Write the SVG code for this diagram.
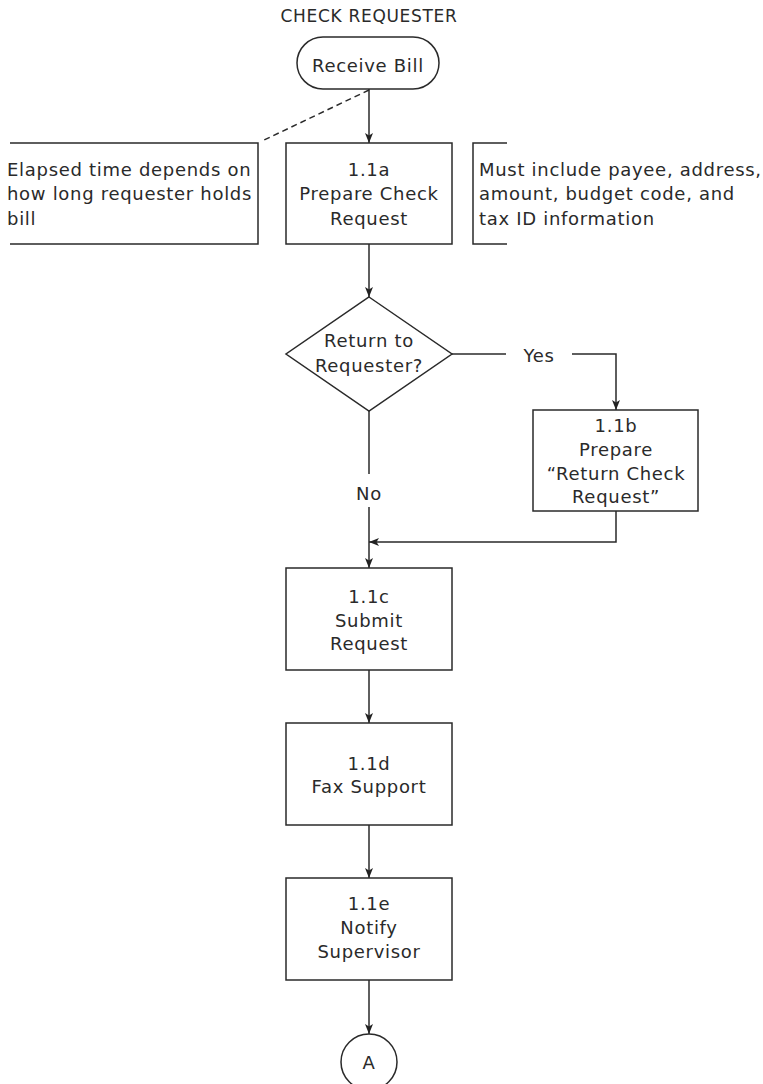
<svg xmlns="http://www.w3.org/2000/svg" width="763" height="1084" viewBox="0 0 763 1084">
<defs>
<marker id="arr" viewBox="0 0 10 10" refX="10" refY="5" markerWidth="10" markerHeight="10" markerUnits="userSpaceOnUse" orient="auto">
<path d="M0,1 L10,5 L0,9 L2.5,5 Z" fill="#222"/>
</marker>
<style>
.t{font-family:"DejaVu Sans",sans-serif;font-size:18px;letter-spacing:0.7px;fill:#2a2a2a;text-anchor:middle}
.l{text-anchor:start}
.s{fill:#fff;stroke:#2a2a2a;stroke-width:1.5}
.c{fill:none;stroke:#2a2a2a;stroke-width:1.5}
.a{marker-end:url(#arr)}
</style>
</defs>
<rect width="763" height="1084" fill="#fff"/>
<text class="t" x="369" y="22" style="font-size:17px">CHECK REQUESTER</text>

<g id="connectors">
<line class="c a" x1="369" y1="89" x2="369" y2="143"/>
<line class="c" x1="369" y1="90" x2="262" y2="141" stroke-dasharray="6,4"/>
<line class="c a" x1="369" y1="244" x2="369" y2="297"/>
<line class="c" x1="452" y1="354" x2="506" y2="354"/>
<polyline class="c a" points="572,354 616,354 616,410"/>
<line class="c" x1="369" y1="411" x2="369" y2="474"/>
<line class="c a" x1="369" y1="507" x2="369" y2="568"/>
<polyline class="c a" points="616,511 616,542 369,542"/>
<line class="c a" x1="369" y1="670" x2="369" y2="723"/>
<line class="c a" x1="369" y1="825" x2="369" y2="878"/>
<line class="c a" x1="369" y1="980" x2="369" y2="1034"/>
<text class="t" x="539" y="362">Yes</text>
<text class="t" x="369" y="500">No</text>
</g>

<g id="start">
<rect class="s" x="297" y="37" width="142" height="52" rx="26"/>
<text class="t" x="368" y="72">Receive Bill</text>
</g>

<g id="note-left">
<polyline class="c" points="10,143 258,143 258,244 10,244"/>
<text class="t l" x="7" y="176">Elapsed time depends on</text>
<text class="t l" x="7" y="200">how long requester holds</text>
<text class="t l" x="7" y="225">bill</text>
</g>

<g id="note-right">
<polyline class="c" points="507,143 473,143 473,244 507,244"/>
<text class="t l" x="479" y="176">Must include payee, address,</text>
<text class="t l" x="479" y="200">amount, budget code, and</text>
<text class="t l" x="479" y="225">tax ID information</text>
</g>

<g id="n11a">
<rect class="s" x="286" y="143" width="166" height="101"/>
<text class="t" x="369" y="176">1.1a</text>
<text class="t" x="369" y="200">Prepare Check</text>
<text class="t" x="369" y="225">Request</text>
</g>

<g id="decision">
<polygon class="s" points="369,297 452,354 369,411 286,354"/>
<text class="t" x="369" y="347">Return to</text>
<text class="t" x="369" y="372">Requester?</text>
</g>

<g id="n11b">
<rect class="s" x="533" y="410" width="165" height="101"/>
<text class="t" x="616" y="432">1.1b</text>
<text class="t" x="616" y="456">Prepare</text>
<text class="t" x="616" y="480">“Return Check</text>
<text class="t" x="616" y="503">Request”</text>
</g>

<g id="n11c">
<rect class="s" x="286" y="568" width="166" height="102"/>
<text class="t" x="369" y="603">1.1c</text>
<text class="t" x="369" y="627">Submit</text>
<text class="t" x="369" y="650">Request</text>
</g>

<g id="n11d">
<rect class="s" x="286" y="723" width="166" height="102"/>
<text class="t" x="369" y="770">1.1d</text>
<text class="t" x="369" y="793">Fax Support</text>
</g>

<g id="n11e">
<rect class="s" x="286" y="878" width="166" height="102"/>
<text class="t" x="369" y="910">1.1e</text>
<text class="t" x="369" y="934">Notify</text>
<text class="t" x="369" y="958">Supervisor</text>
</g>

<g id="connector-A">
<circle class="s" cx="369" cy="1062" r="28"/>
<text class="t" x="369" y="1069">A</text>
</g>
</svg>
